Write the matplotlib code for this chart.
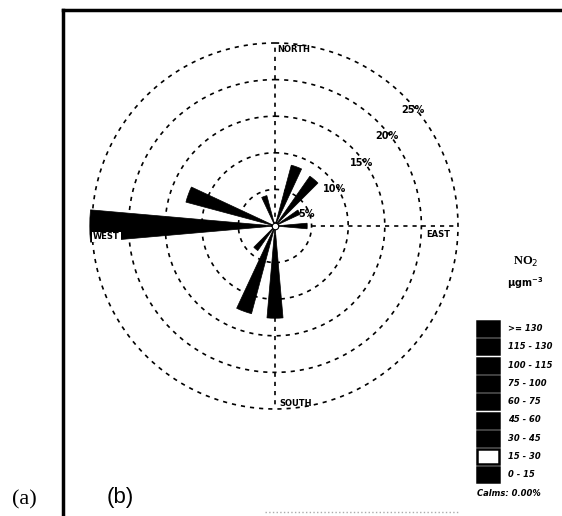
import numpy as np
import matplotlib
matplotlib.use("Agg")
import matplotlib.pyplot as plt
from matplotlib.patches import Rectangle
from matplotlib.lines import Line2D

# --- wind rose data (compass degrees, % frequency) ---
directions = [20, 40, 60, 90, 180, 200, 220, 270, 290, 340]
freq = [8.6, 8.3, 3.8, 4.4, 12.6, 12.4, 4.1, 25.3, 12.6, 4.3]

ring_levels = [5, 10, 15, 20, 25]
ring_labels = ["5%", "10%", "15%", "20%", "25%"]
ring_label_angle = [70, 58, 54, 51, 50]

legend_labels = [">= 130", "115 - 130", "100 - 115", "75 - 100", "60 - 75",
                 "45 - 60", "30 - 45", "15 - 30", "0 - 15"]
legend_colors = ["black"] * 7 + ["white", "black"]

W, H = 562, 516
fig = plt.figure(figsize=(W / 100, H / 100), dpi=100)

def fx(px):
    return px / W

def fy(py):
    return 1 - py / H

# polar axes: centre (275, 226), radius 183 px
cx, cy, rad = 275, 226, 183
ax = fig.add_axes([fx(cx - rad), fy(cy + rad), 2 * rad / W, 2 * rad / H],
                  projection="polar")
ax.set_theta_zero_location("N")
ax.set_theta_direction(-1)
ax.set_ylim(0, 25)
ax.grid(False)
ax.set_xticks([])
ax.set_yticks([])
ax.spines["polar"].set_visible(False)
ax.patch.set_alpha(0)

# dotted rings and spokes
t = np.linspace(0, 2 * np.pi, 400)
for r in ring_levels:
    ax.plot(t, np.full_like(t, r), color="black", lw=1.2, ls=(0, (2.5, 3)),
            clip_on=False)
for a in [0, 90, 180, 270]:
    ax.plot([np.deg2rad(a)] * 2, [0, 25], color="black", lw=1.2,
            ls=(0, (2.5, 3)), clip_on=False)

# petals
ax.bar(np.deg2rad(directions), freq, width=np.deg2rad(10), color="black",
       edgecolor="black", lw=0.5, clip_on=False, zorder=3)
ax.scatter([0], [0], s=22, color="white", edgecolors="black", lw=0.8,
           zorder=5)

# ring labels
for r, lab, a in zip(ring_levels, ring_labels, ring_label_angle):
    ax.text(np.deg2rad(a), r - 0.4, lab, fontsize=7, fontweight="heavy",
            ha="center", va="center", zorder=4)

# compass labels
lab_kw = dict(fontsize=6, fontweight="heavy", ha="left", va="center",
              zorder=10)
fig.text(fx(277), fy(50), "NORTH", **lab_kw)
fig.text(fx(93), fy(237), "WEST",
         bbox=dict(facecolor="white", edgecolor="none", pad=0.6), **lab_kw)
fig.text(fx(426), fy(235), "EAST", **lab_kw)
fig.text(fx(279), fy(404), "SOUTH", **lab_kw)

# legend title
fig.text(fx(526), fy(262), r"NO$_2$", fontsize=9, fontweight="bold",
         family="Liberation Serif", ha="center", va="center")
fig.text(fx(525), fy(283), r"$\mathbf{\mu gm^{-3}}$", fontsize=7,
         ha="center", va="center")

# legend boxes
top0, pitch = 321, 18.3
for i, (lab, col) in enumerate(zip(legend_labels, legend_colors)):
    y0 = top0 + i * pitch
    fig.patches.append(Rectangle((fx(477), fy(y0 + 15)), 22 / W, 15 / H,
                                 transform=fig.transFigure, facecolor=col,
                                 edgecolor="black", lw=1.8))
    fig.text(fx(508), fy(y0 + 7.5), lab, fontsize=6, fontweight="heavy",
             style="italic", ha="left", va="center")
fig.text(fx(477), fy(494), "Calms: 0.00%", fontsize=6, fontweight="heavy",
         style="italic", ha="left", va="center")

# frame lines
fig.add_artist(Line2D([fx(63), fx(63)], [fy(516), fy(10)], color="black",
                      lw=2.5, transform=fig.transFigure))
fig.add_artist(Line2D([fx(63), fx(562)], [fy(10), fy(10)], color="black",
                      lw=2.5, transform=fig.transFigure))
fig.add_artist(Line2D([fx(265), fx(460)], [fy(512), fy(512)], color="#aaaaaa",
                      lw=1, ls=":", transform=fig.transFigure))

# panel labels
fig.text(fx(24), fy(500), "(a)", fontsize=16, family="Liberation Serif",
         ha="center", va="center")
fig.text(fx(120), fy(497), "(b)", fontsize=16, family="Liberation Sans",
         ha="center", va="center")

fig.savefig("out.png", dpi=100)
